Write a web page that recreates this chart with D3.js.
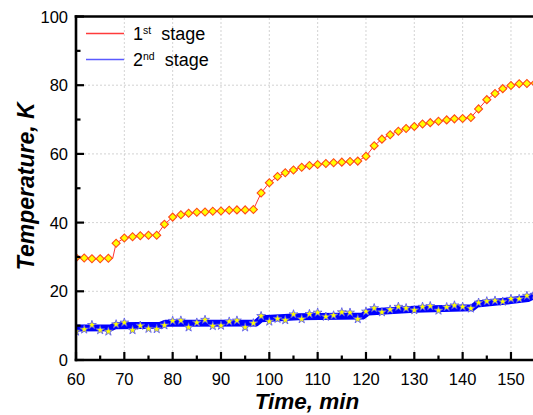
<!DOCTYPE html>
<html>
<head>
<meta charset="utf-8">
<script src="https://cdn.jsdelivr.net/npm/d3@7"></script>
<style>
  html, body { margin: 0; padding: 0; background: #fff; }
  svg { display: block; }
  text { font-family: "Liberation Sans", Arial, sans-serif; }
</style>
</head>
<body>
<svg id="chart" width="533" height="415"></svg>
<script>
// ---------- data ----------
const sampleTime = [60, 61.7, 63.3, 65, 66.7, 68.3, 70, 71.7, 73.3, 75, 76.7, 78.3, 80, 81.7, 83.3, 85, 86.7, 88.3, 90, 91.7, 93.3, 95, 96.7, 98.3, 100, 101.7, 103.3, 105, 106.7, 108.3, 110, 111.7, 113.3, 115, 116.7, 118.3, 120, 121.7, 123.3, 125, 126.7, 128.3, 130, 131.7, 133.3, 135, 136.7, 138.3, 140, 141.7, 143.3, 145, 146.7, 148.3, 150, 151.7, 153.3, 155];

const stage1Temp = [29.8, 29.7, 29.5, 29.5, 29.6, 34.0, 35.5, 35.9, 36.2, 36.3, 36.3, 39.5, 41.6, 42.3, 42.7, 43.0, 43.1, 43.3, 43.4, 43.6, 43.7, 43.7, 43.8, 48.6, 51.6, 53.4, 54.5, 55.3, 56.1, 56.6, 56.9, 57.2, 57.4, 57.6, 57.8, 57.9, 59.3, 62.4, 64.3, 65.6, 66.6, 67.4, 68.0, 68.7, 69.1, 69.5, 69.9, 70.2, 70.3, 70.6, 73.1, 75.8, 77.6, 79.0, 79.9, 80.4, 80.5, 80.6];

// extra corner point of the 1st-stage trace (line only)
const stage1CornerTime = [67.6];
const stage1CornerTemp = [29.6];

const stage2Temp = [8.3, 8.9, 10.2, 8.7, 8.3, 10.4, 10.9, 8.7, 10.0, 9.1, 9.0, 10.1, 11.4, 11.5, 9.5, 10.9, 11.7, 9.9, 10.0, 11.2, 11.5, 9.5, 10.7, 12.8, 11.2, 12.0, 11.6, 13.3, 11.9, 13.4, 13.8, 12.6, 13.0, 13.9, 13.8, 11.9, 14.1, 15.1, 13.9, 14.7, 15.5, 15.1, 14.5, 15.5, 15.7, 14.4, 15.4, 15.9, 15.5, 15.0, 16.7, 17.1, 17.3, 17.0, 17.8, 17.8, 18.7, 19.0];

// dense 2nd-stage trace (drawn as thick band)
const stage2BandTime = [60, 67.3, 68.2, 77.5, 78.5, 97.3, 98.3, 106, 119.3, 120.5, 130, 142, 143, 150, 153.5, 155];
const stage2BandTemp = [9.3, 9.4, 10.0, 10.1, 10.7, 10.8, 12.0, 12.6, 12.8, 14.0, 14.8, 15.2, 16.3, 17.3, 17.9, 18.9];

const xMajorTicks = [60, 70, 80, 90, 100, 110, 120, 130, 140, 150];
const xMinorTicks = [65, 75, 85, 95, 105, 115, 125, 135, 145, 155];
const yMajorTicks = [0, 20, 40, 60, 80, 100];
const yMinorTicks = [10, 30, 50, 70, 90];

// ---------- layout ----------
const svg = d3.select("#chart");
const plotLeft = 76, plotBottom = 360, plotTop = 16.5;
const x = d3.scaleLinear().domain([60, 160]).range([plotLeft, plotLeft + 483.3]);
const y = d3.scaleLinear().domain([0, 100]).range([plotBottom, plotTop]);
const plotRight = x(160);

// grid
const grid = svg.append("g").attr("stroke", "#c8c8c8").attr("stroke-width", 0.8).attr("stroke-dasharray", "2,2");
xMajorTicks.slice(1).forEach(t => grid.append("line").attr("x1", x(t)).attr("x2", x(t)).attr("y1", y(0)).attr("y2", y(100)));
yMajorTicks.slice(1, -1).forEach(t => grid.append("line").attr("x1", plotLeft).attr("x2", plotRight).attr("y1", y(t)).attr("y2", y(t)));

// clip
svg.append("clipPath").attr("id", "clip").append("rect")
  .attr("x", plotLeft).attr("y", plotTop).attr("width", plotRight - plotLeft).attr("height", plotBottom - plotTop);
const plot = svg.append("g").attr("clip-path", "url(#clip)");

// 2nd stage band
const band = stage2BandTime.map((t, i) => [t, stage2BandTemp[i]]);
const line = d3.line().x(d => x(d[0])).y(d => y(d[1]));
plot.append("path").datum(band).attr("d", line)
  .attr("fill", "none").attr("stroke", "#0000ff").attr("stroke-width", 7).attr("stroke-linejoin", "round");

// 2nd stage star markers
const star = d3.symbol().type(d3.symbolStar).size(24);
plot.append("g").selectAll("path").data(sampleTime.map((t, i) => [t, stage2Temp[i]]))
  .join("path").attr("d", star)
  .attr("transform", d => `translate(${x(d[0])},${y(d[1])})`)
  .attr("fill", "#ffff00").attr("stroke", "#5050ff").attr("stroke-width", 0.8);

// 1st stage line
const s1 = sampleTime.map((t, i) => [t, stage1Temp[i]])
  .concat(stage1CornerTime.map((t, i) => [t, stage1CornerTemp[i]]))
  .sort((a, b) => a[0] - b[0]);
plot.append("path").datum(s1).attr("d", line)
  .attr("fill", "none").attr("stroke", "#ff3333").attr("stroke-width", 1);

// 1st stage diamond markers
const sq = d3.symbol().type(d3.symbolSquare).size(32);
plot.append("g").selectAll("path").data(sampleTime.map((t, i) => [t, stage1Temp[i]]))
  .join("path").attr("d", sq)
  .attr("transform", d => `translate(${x(d[0])},${y(d[1])}) rotate(45)`)
  .attr("fill", "#ffff00").attr("stroke", "#ff4a1a").attr("stroke-width", 1.1);

// axes frame
const frame = svg.append("g").attr("stroke", "#000").attr("stroke-width", 2.6).attr("fill", "none");
frame.append("line").attr("x1", plotLeft).attr("x2", plotLeft).attr("y1", plotTop - 1.3).attr("y2", plotBottom + 1.3);
frame.append("line").attr("x1", plotLeft - 1.3).attr("x2", plotRight).attr("y1", plotBottom).attr("y2", plotBottom);
frame.append("line").attr("x1", plotLeft - 1.3).attr("x2", plotRight).attr("y1", plotTop).attr("y2", plotTop);

// ticks (inward)
const ticks = svg.append("g").attr("stroke", "#000").attr("stroke-width", 2.2);
xMajorTicks.forEach(t => ticks.append("line").attr("x1", x(t)).attr("x2", x(t)).attr("y1", plotBottom).attr("y2", plotBottom - 8));
xMinorTicks.forEach(t => ticks.append("line").attr("x1", x(t)).attr("x2", x(t)).attr("y1", plotBottom).attr("y2", plotBottom - 4.5));
yMajorTicks.forEach(t => ticks.append("line").attr("x1", plotLeft).attr("x2", plotLeft + 8).attr("y1", y(t)).attr("y2", y(t)));
yMinorTicks.forEach(t => ticks.append("line").attr("x1", plotLeft).attr("x2", plotLeft + 4.5).attr("y1", y(t)).attr("y2", y(t)));

// tick labels
svg.append("g").selectAll("text").data(xMajorTicks).join("text")
  .attr("x", d => x(d)).attr("y", 384.5).attr("text-anchor", "middle")
  .attr("font-size", 16.5).attr("fill", "#000").text(d => d);
svg.append("g").selectAll("text").data(yMajorTicks).join("text")
  .attr("x", 68).attr("y", d => y(d) + 6).attr("text-anchor", "end")
  .attr("font-size", 16.5).attr("fill", "#000").text(d => d);

// axis titles
svg.append("text").attr("x", x(107.8)).attr("y", 408.5).attr("text-anchor", "middle")
  .attr("font-size", 22.5).attr("font-weight", "bold").attr("font-style", "italic").text("Time, min");
svg.append("text").attr("transform", `translate(34,${(plotTop + plotBottom) / 2 - 2}) rotate(-90)`)
  .attr("text-anchor", "middle")
  .attr("font-size", 23).attr("font-weight", "bold").attr("font-style", "italic").text("Temperature, K");

// legend
const legend = svg.append("g");
const legendItems = [
  { sup: "st", num: "1", color: "#ff3b3b", yy: 33.5 },
  { sup: "nd", num: "2", color: "#5a5aff", yy: 59.5 }
];
legendItems.forEach(it => {
  legend.append("line").attr("x1", 86).attr("x2", 124).attr("y1", it.yy).attr("y2", it.yy)
    .style("stroke", it.color).attr("stroke-width", 1.4);
  const t = legend.append("text").attr("x", 133).attr("y", it.yy + 6.5).attr("font-size", 18).attr("fill", "#000");
  t.append("tspan").text(it.num);
  t.append("tspan").attr("font-size", 10.5).attr("dy", -6.5).text(it.sup);
  t.append("tspan").attr("dy", 6.5).text("\u00a0 stage");
});
</script>
</body>
</html>
